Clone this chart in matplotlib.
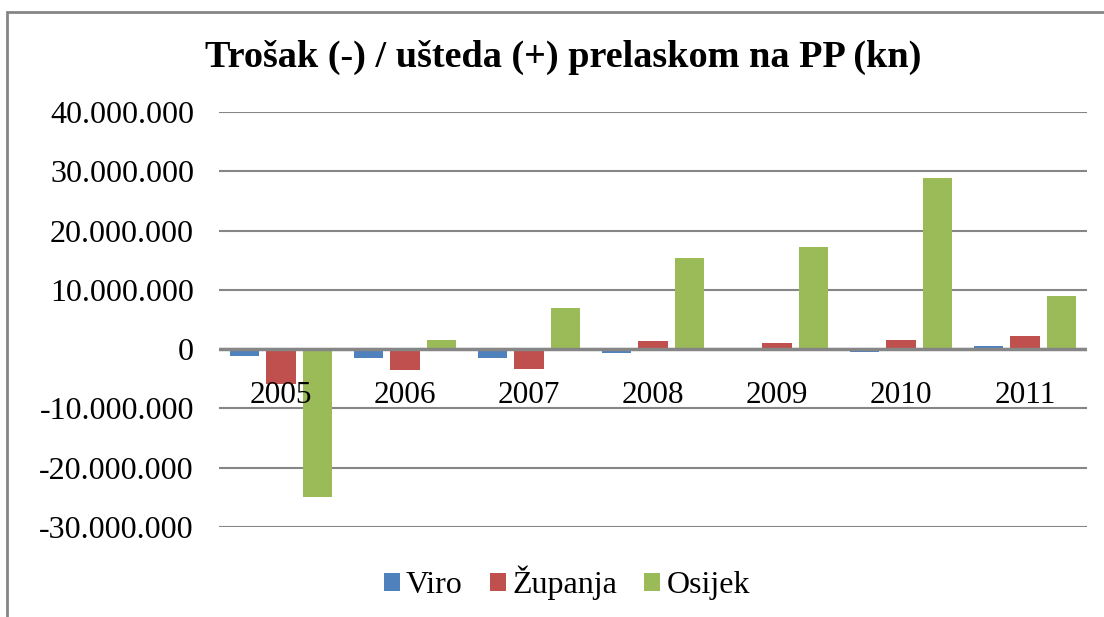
import numpy as np
import matplotlib.pyplot as plt
from matplotlib.patches import Rectangle
from matplotlib.ticker import FuncFormatter

years = ['2005', '2006', '2007', '2008', '2009', '2010', '2011']
viro = [-1.1e6, -1.5e6, -1.5e6, -0.6e6, -0.2e6, -0.4e6, 0.5e6]
zupanja = [-5.8e6, -3.5e6, -3.3e6, 1.4e6, 1.0e6, 1.6e6, 2.2e6]
osijek = [-25.0e6, 1.5e6, 7.0e6, 15.4e6, 17.2e6, 28.9e6, 8.9e6]

series = [('Viro', viro, '#4F81BD'),
          ('Županja', zupanja, '#C0504D'),
          ('Osijek', osijek, '#9BBB59')]

plt.rcParams['font.family'] = ['Liberation Serif', 'DejaVu Serif']

fig = plt.figure(figsize=(11.04, 6.17), dpi=100)
ax = fig.add_axes([219 / 1104, 1 - 527 / 617, (1087 - 219) / 1104, (527 - 112) / 617])

# chart border
fig.patches.append(Rectangle((7 / 1104, -0.05), 1.2, 1 - 12 / 617 + 0.05,
                             transform=fig.transFigure, fill=False,
                             edgecolor='#868686', linewidth=2))

x = np.arange(len(years))
w = 0.235
step = 0.295
for i, (name, vals, col) in enumerate(series):
    ax.bar(x + (i - 1) * step, vals, width=w, color=col, label=name, zorder=2)

ax.set_xlim(-0.5, len(years) - 0.5)
ax.set_ylim(-30e6, 40e6)
ax.set_yticks(np.arange(-30e6, 40e6 + 1, 10e6))
ax.yaxis.set_major_formatter(FuncFormatter(lambda v, p: f'{int(v):,}'.replace(',', '.')))
ax.tick_params(axis='y', length=0, pad=18, labelsize=23)
ax.grid(axis='y', color='#868686', linewidth=1.5, zorder=0)
ax.axhline(0, color='#868686', linewidth=2.5, zorder=3)
ax.set_xticks([])
for s in ax.spines.values():
    s.set_visible(False)

# category labels sit just under the zero line, over the bars
for xi, yr in zip(x, years):
    ax.text(xi, -5.4e6, yr, ha='center', va='top', fontsize=22.5, zorder=4)

fig.text(563 / 1104, 1 - 57 / 617, 'Trošak (-) / ušteda (+) prelaskom na PP (kn)',
         ha='center', va='center', fontsize=27.5, fontweight='bold')

fig.legend(loc='center', bbox_to_anchor=(567 / 1104, 1 - 583 / 617), ncol=3,
           frameon=False, fontsize=23, handlelength=0.5, handleheight=0.5,
           handletextpad=0.2, columnspacing=0.85)

fig.savefig('out.png', dpi=100)
